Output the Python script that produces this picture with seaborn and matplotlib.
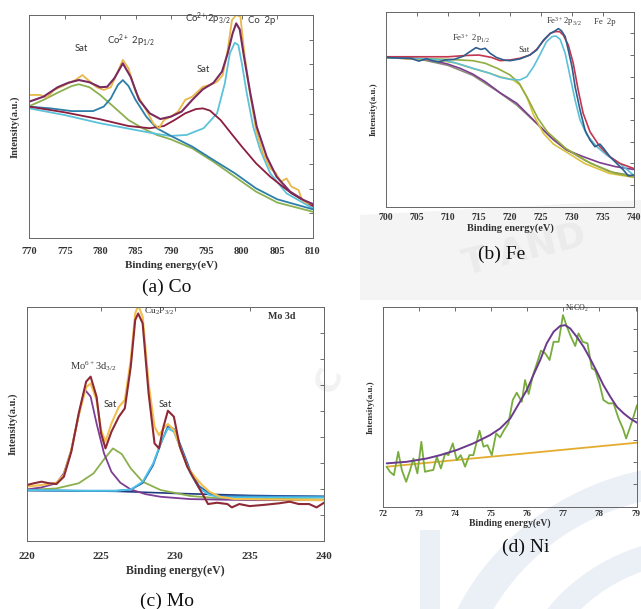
import matplotlib
matplotlib.use("Agg")
import matplotlib.pyplot as plt
import seaborn as sns
from matplotlib.patches import Polygon, Wedge

sns.set_theme(style="white")
plt.rcParams['font.family'] = ['Liberation Serif', 'DejaVu Serif']
plt.rcParams['mathtext.default'] = 'regular'

# ---------------- (a) Co 2p ----------------
co_env_x = [770, 772, 774, 775.5, 777, 778.5, 780, 781, 782, 783.2, 784.3, 785.5, 787, 788.5, 790,
            791.5, 793, 794.5, 796, 797.2, 798, 798.7, 799.2, 799.7, 800.3, 801.2, 802.1, 803.5,
            804.9, 806.8, 808.7, 810]
co_env_y = [5.50, 5.70, 6.08, 6.26, 6.37, 6.28, 6.08, 6.10, 6.44, 7.04, 6.50, 5.57, 5.03, 4.80, 4.90,
            5.10, 5.57, 6.00, 6.26, 6.71, 7.44, 8.25, 8.65, 8.41, 7.31, 5.83, 4.49, 3.29,
            2.48, 1.88, 1.54, 1.38]
co_raw_x = [770, 771.5, 772.5, 773.5, 775, 776.5, 777.5, 778.3, 779.5, 780.5, 781.5, 782.5, 783.2, 784,
            785, 786.5, 787.5, 788.3, 789, 790, 791, 792, 793, 794.5, 795.5, 796.5, 797.3, 798,
            798.6, 799.2, 799.8, 800.3, 801, 802, 803, 804, 804.8, 805.5, 806.3, 807, 808, 808.5,
            809, 810]
co_raw_y = [5.77, 5.77, 5.67, 5.97, 6.17, 6.37, 6.57, 6.37, 6.08, 5.97, 6.08, 6.71, 7.18, 6.84,
            5.90, 5.16, 4.63, 4.43, 4.76, 4.90, 5.10, 5.57, 5.70, 6.10, 6.17, 6.30, 6.57, 7.58,
            8.78, 8.99, 8.92, 7.58, 6.10, 4.36, 3.42, 2.82, 2.62, 2.28, 2.41, 2.08, 1.94, 1.54,
            1.44, 1.38]
co_p12_x = [770, 773, 776, 779, 780.5, 781.5, 782.5, 783.2, 784, 785, 786.5, 788, 790, 793, 796,
            799, 802, 805, 810]
co_p12_y = [5.30, 5.23, 5.12, 5.12, 5.30, 5.63, 6.17, 6.37, 6.13, 5.57, 4.90, 4.43, 4.12, 3.69,
            3.15, 2.62, 2.01, 1.57, 1.17]
co_sat1_x = [770, 772, 774, 776, 777, 778.5, 780, 782, 784, 786, 788, 790, 793, 796, 799, 802, 805, 810]
co_sat1_y = [5.32, 5.57, 5.86, 6.13, 6.20, 6.08, 5.77, 5.27, 4.76, 4.43, 4.16, 3.98, 3.62, 3.08,
             2.48, 1.88, 1.44, 1.07]
co_sat2_x = [770, 775, 780, 784, 787, 789, 790.5, 792, 793.5, 794.5, 795.5, 797, 798.5, 800, 802,
             804, 807, 810]
co_sat2_y = [5.30, 5.07, 4.79, 4.52, 4.43, 4.52, 4.76, 5.03, 5.20, 5.23, 5.14, 4.76, 4.22, 3.69,
             3.02, 2.48, 1.81, 1.30]
co_p32_x = [770, 775, 780, 785, 788, 789.9, 792.2, 794.6, 796.5, 797.6, 798.3, 799.0, 799.5, 800.0,
            800.7, 801.6, 802.6, 804.0, 806.3, 810]
co_p32_y = [5.23, 4.96, 4.63, 4.36, 4.20, 4.12, 4.16, 4.43, 5.03, 6.24, 7.44, 7.87, 7.78, 7.04,
            5.83, 4.49, 3.55, 2.62, 1.81, 1.21]

# ---------------- (b) Fe 2p ----------------
fe_raw_x = [700, 702, 704, 705.3, 706.5, 707.5, 708.5, 709.5, 711, 712.5, 713.5, 714.5, 715.3, 716,
            716.8, 717.8, 719, 720, 721.6, 723.2, 724.3, 725.4, 726.5, 727.3, 727.8, 728.3, 728.9,
            729.4, 730.0, 730.5, 731.3, 732.1, 732.9, 733.7, 734.5, 735.1, 736.1, 737.2, 738.3,
            739.1, 739.9]
fe_raw_y = [6.89, 6.86, 6.85, 6.72, 6.83, 6.74, 6.68, 6.77, 6.80, 6.95, 7.15, 7.34, 7.26, 7.31,
            7.08, 6.89, 6.77, 6.74, 6.82, 7.00, 7.23, 7.69, 8.00, 8.12, 8.22, 8.12, 7.85,
            7.23, 6.46, 5.54, 4.46, 3.54, 3.08, 2.77, 2.89, 2.69, 2.31, 2.00, 1.69,
            1.42, 1.46]
fe_env_x = [700, 705, 710, 713, 715, 717, 718.4, 720.0, 721.6, 723.2, 724.3, 725.4, 726.5, 727.3,
            728.0, 728.6, 729.4, 730.2, 731.0, 731.8, 732.9, 734.5, 736.1, 737.7, 739.9]
fe_env_y = [6.92, 6.92, 6.92, 6.98, 7.00, 6.89, 6.74, 6.77, 6.85, 7.00, 7.26, 7.66, 8.00, 8.08,
            8.08, 7.92, 7.46, 6.62, 5.38, 4.31, 3.46, 2.77, 2.31, 2.00, 1.77]
fe_p32_x = [700, 705, 709.2, 711.4, 714.1, 716.8, 718.4, 720, 721.6, 722.7, 723.8, 724.8, 725.9,
            726.8, 727.4, 728.1, 728.9, 729.7, 730.5, 731.3, 732.4, 734.0, 735.6, 737.7, 739.9]
fe_p32_y = [6.89, 6.85, 6.77, 6.62, 6.38, 6.15, 5.97, 5.88, 5.85, 6.00, 6.46, 7.00, 7.62,
            7.85, 7.88, 7.72, 7.08, 6.00, 4.92, 4.00, 3.31, 2.77, 2.38, 2.00, 1.46]
fe_grn_x = [700, 710, 712, 714, 716, 718, 720, 721.5, 723, 724.5, 726, 729, 733, 737, 740]
fe_grn_y = [6.89, 6.80, 6.77, 6.74, 6.62, 6.38, 6.08, 5.69, 4.92, 4.08, 3.46, 2.69, 2.00, 1.54, 1.38]
fe_yel_x = [700, 708, 711, 714, 716.5, 718.4, 720.5, 721.6, 722.7, 723.8, 725.4, 727, 729, 732, 736, 740]
fe_yel_y = [6.89, 6.77, 6.65, 6.38, 6.18, 6.00, 5.85, 5.62, 5.08, 4.23, 3.38, 2.89, 2.54, 2.00, 1.54, 1.35]
fe_pur_x = [700, 705, 708, 710, 712, 714, 716, 718.4, 721.1, 723.8, 726.5, 729.1, 731.8, 734.5, 737, 739.9]
fe_pur_y = [6.89, 6.83, 6.72, 6.58, 6.38, 6.12, 5.77, 5.26, 4.77, 4.00, 3.23, 2.62, 2.31, 2.03, 1.85, 1.72]
fe_gry_x = [700, 706, 710, 714, 718, 721, 724, 727, 729, 732, 736, 740]
fe_gry_y = [6.89, 6.77, 6.52, 6.06, 5.32, 4.71, 3.92, 3.08, 2.66, 2.15, 1.62, 1.42]

# ---------------- (c) Mo 3d ----------------
mo_raw_x = [220, 220.5, 221, 221.5, 222, 222.5, 223, 223.5, 224, 224.3, 224.7, 225, 225.3, 225.7,
            226.2, 226.6, 227, 227.3, 227.5, 227.8, 228.2, 228.6, 228.9, 229.2, 229.5, 229.9,
            230.3, 230.8, 231.3, 231.8, 232.2, 232.8, 233.5, 233.8, 234.3, 235, 236, 237, 237.7,
            238.3, 239, 239.5, 240]
mo_raw_y = [2.14, 2.21, 2.27, 2.21, 2.18, 2.46, 3.42, 4.90, 6.12, 6.31, 5.54, 4.13, 3.55, 4.19,
            4.77, 5.09, 6.69, 8.49, 8.74, 8.36, 5.67, 3.74, 3.55, 4.38, 5.00, 4.77,
            3.62, 2.85, 2.33, 1.82, 1.41, 1.46, 1.41, 1.28, 1.41, 1.33, 1.38, 1.44, 1.50,
            1.41, 1.41, 1.28, 1.46]
mo_fit_x = [220, 221, 222, 222.5, 223, 223.5, 224, 224.3, 224.7, 225, 225.3, 225.7, 226.2, 226.6,
            227, 227.3, 227.5, 227.8, 228.2, 228.6, 228.9, 229.2, 229.5, 229.9, 230.3, 230.8,
            231.3, 231.8, 232.3, 233, 234, 236, 240]
mo_fit_y = [2.08, 2.14, 2.23, 2.53, 3.49, 4.83, 5.90, 6.05, 5.41, 4.26, 3.81, 4.51, 5.15, 5.41,
            6.95, 8.74, 9.05, 8.62, 6.05, 4.38, 4.06, 4.32, 4.49, 4.26, 3.62, 2.85,
            2.46, 2.14, 1.88, 1.69, 1.60, 1.59, 1.56]
mo_p6_x = [220, 221, 222, 222.5, 223, 223.5, 223.9, 224.3, 224.7, 225.2, 225.7, 226.3, 227, 228,
           229, 231, 235, 240]
mo_p6_y = [1.97, 2.05, 2.21, 2.59, 3.49, 4.83, 5.82, 5.54, 4.51, 3.36, 2.65, 2.23, 1.97, 1.79,
           1.69, 1.60, 1.56, 1.56]
mo_sat1_x = [220, 222, 223.5, 224.5, 225.2, 225.8, 226.4, 227, 227.8, 229, 231, 233, 240]
mo_sat1_y = [1.95, 2.01, 2.21, 2.59, 3.13, 3.55, 3.33, 2.78, 2.27, 1.95, 1.72, 1.63, 1.59]
mo_sat2_x = [220, 224, 226, 227, 227.8, 228.5, 229, 229.5, 229.9, 230.4, 231, 231.6, 232.3, 233, 240]
mo_sat2_y = [1.95, 1.92, 1.92, 1.97, 2.27, 2.97, 3.74, 4.32, 4.19, 3.49, 2.59, 2.01, 1.76, 1.67, 1.67]
mo_sat2b_y = [1.93, 1.92, 1.92, 1.96, 2.22, 2.90, 3.70, 4.40, 4.30, 3.60, 2.70, 2.10, 1.82, 1.72, 1.70]
mo_base_x = [220, 226, 230, 235, 240]
mo_base_y = [1.94, 1.90, 1.82, 1.74, 1.70]

# ---------------- (d) Ni ----------------
ni_raw_x = [72.11, 72.20, 72.31, 72.43, 72.53, 72.65, 72.76, 72.85, 72.96, 73.07, 73.17, 73.29,
            73.40, 73.50, 73.61, 73.73, 73.82, 73.94, 74.05, 74.16, 74.28, 74.40, 74.51, 74.68,
            74.79, 74.90, 75.02, 75.14, 75.25, 75.36, 75.48, 75.60, 75.71, 75.85, 75.94, 76.04,
            76.16, 76.27, 76.38, 76.50, 76.62, 76.73, 76.87, 76.99, 77.10, 77.21, 77.33, 77.42,
            77.54, 77.67, 77.79, 77.88, 78.00, 78.11, 78.25, 78.39, 78.53, 78.65, 78.74, 78.90, 79.04]
ni_raw_y = [1.80, 1.57, 1.42, 2.47, 1.65, 1.12, 1.65, 2.17, 1.50, 2.92, 1.57, 1.62,
            1.65, 2.25, 1.72, 2.40, 2.32, 2.85, 2.10, 2.32, 1.80, 2.32, 2.32, 3.42,
            2.70, 2.77, 2.32, 3.30, 3.12, 3.45, 3.75, 4.80, 5.13, 4.72, 5.70, 5.07,
            5.92, 6.45, 7.02, 6.90, 6.60, 7.42, 7.42, 8.62, 8.10, 7.65, 7.23, 7.80,
            7.42, 7.35, 6.22, 6.15, 5.55, 4.80, 4.65, 4.65, 3.97, 3.52, 3.07, 3.82, 4.57]
ni_fit_x = [72.11, 72.66, 73.22, 73.59, 74.05, 74.51, 74.97, 75.25, 75.53, 75.80, 75.99, 76.17,
            76.36, 76.54, 76.73, 76.91, 77.05, 77.19, 77.37, 77.56, 77.74, 77.93, 78.11, 78.30,
            78.48, 78.67, 78.85, 79.04]
ni_fit_y = [1.95, 2.02, 2.17, 2.32, 2.55, 2.85, 3.22, 3.52, 3.97, 4.72, 5.25, 5.92,
            6.60, 7.35, 7.87, 8.13, 8.17, 8.02, 7.65, 7.20, 6.67, 6.07, 5.47, 4.95,
            4.50, 4.20, 3.97, 3.78]
ni_base_x = [72.11, 79.04]
ni_base_y = [1.80, 2.88]

fig = plt.figure(figsize=(6.41, 6.09), dpi=100)
W, H = 641.0, 609.0

# faint background watermark shapes
fig.patches.append(Polygon([[360 / W, 1 - 215 / H], [641 / W, 1 - 200 / H], [641 / W, 1 - 300 / H],
                            [360 / W, 1 - 300 / H]], closed=True, transform=fig.transFigure,
                           facecolor='#f4f4f4', edgecolor='none', zorder=-5))
fig.patches.append(Wedge((700 / W, 1 - 720 / H), 0.42, 100, 175, width=0.05,
                         transform=fig.transFigure, facecolor='#ebf0f7', edgecolor='none', zorder=-5))
fig.patches.append(Wedge((700 / W, 1 - 720 / H), 0.30, 100, 175, width=0.04,
                         transform=fig.transFigure, facecolor='#ebf0f7', edgecolor='none', zorder=-5))
fig.patches.append(Polygon([[420 / W, 1 - 530 / H], [440 / W, 1 - 530 / H], [440 / W, 1 - 609 / H],
                            [420 / W, 1 - 609 / H]], closed=True, transform=fig.transFigure,
                           facecolor='#ebf0f7', edgecolor='none', zorder=-5))
fig.text(525 / W, 1 - 250 / H, "T AND", fontsize=26, fontweight='bold', color='#ebebeb',
         rotation=14, ha='center', va='center', family='DejaVu Sans', zorder=-4)
fig.text(330 / W, 1 - 380 / H, "C", fontsize=24, fontweight='bold', color='#f2f2f2',
         rotation=70, ha='center', va='center', family='DejaVu Sans', zorder=-4)


def make_ax(l, t, r, b):
    return fig.add_axes([l / W, 1 - b / H, (r - l) / W, (b - t) / H])


def style(ax, xlim, xticks, tfs, tpad, xfs, xlpad, yfs, ylx):
    ax.set_facecolor('none')
    ax.set_xlim(*xlim)
    ax.set_ylim(0, 9)
    ax.set_xticks(xticks)
    ax.set_xticklabels([str(v) for v in xticks])
    ax.set_yticks(range(1, 9))
    ax.set_yticklabels([])
    ax.tick_params(direction='in', top=True, right=True, length=3, width=0.6,
                   color='#555555', labelsize=tfs, pad=tpad, labelcolor='#333333')
    for lab in ax.get_xticklabels():
        lab.set_fontweight('bold')
    ax.set_xlabel('Binding energy(eV)', fontsize=xfs, fontweight='bold', labelpad=xlpad, color='#333333')
    ax.set_ylabel('Intensity(a.u.)', fontsize=yfs, fontweight='bold', color='#333333')
    ax.yaxis.set_label_coords(ylx, 0.5)
    for s in ax.spines.values():
        s.set_color('#666666')
        s.set_linewidth(0.7)


def line(ax, x, y, c, lw=1.3):
    sns.lineplot(x=x, y=y, ax=ax, color=c, linewidth=lw, sort=False, estimator=None)


# ----- panel a -----
axa = make_ax(29.3, 14.7, 312.7, 238.3)
line(axa, co_sat1_x, co_sat1_y, '#8cb050')
line(axa, co_p32_x, co_p32_y, '#5bc2da')
line(axa, co_p12_x, co_p12_y, '#2c7fa8')
line(axa, co_sat2_x, co_sat2_y, '#8b1e3f')
line(axa, co_raw_x, co_raw_y, '#e8b84a')
line(axa, co_env_x, co_env_y, '#7a2a5e', 1.5)
style(axa, (770, 810), [770, 775, 780, 785, 790, 795, 800, 805, 810], 7.5, 6.3, 8, 3, 7.5, -0.033)
sfont = dict(family=['Lato', 'DejaVu Sans'], fontsize=6.8, color='#333333')
axa.text(777.3, 7.45, 'Sat', ha='center', va='bottom', **sfont)
axa.text(781, 7.6, 'Co$^{2+}$ 2p$_{1/2}$', ha='left', va='bottom', **sfont)
axa.text(792, 8.5, 'Co$^{2+}$2p$_{3/2}$', ha='left', va='bottom', **sfont)
axa.text(794.5, 6.6, 'Sat', ha='center', va='bottom', **sfont)
axa.text(800.9, 8.6, 'Co  2p', ha='left', va='bottom', **sfont)

# ----- panel b -----
axb = make_ax(386, 11.7, 634, 206.7)
line(axb, fe_gry_x, fe_gry_y, '#8c8a78', 1.1)
line(axb, fe_pur_x, fe_pur_y, '#7d3e8e', 1.2)
line(axb, fe_yel_x, fe_yel_y, '#d8c23e', 1.2)
line(axb, fe_grn_x, fe_grn_y, '#92ac3e', 1.2)
line(axb, fe_p32_x, fe_p32_y, '#5cc0d8', 1.2)
line(axb, fe_env_x, fe_env_y, '#c2364f', 1.2)
line(axb, fe_raw_x, fe_raw_y, '#2e5e8e', 1.2)
style(axb, (700, 740), [700, 705, 710, 715, 720, 725, 730, 735, 740], 7, 4.3, 7.5, 1.5, 6.5, -0.032)
tfont = dict(family=['Liberation Serif', 'DejaVu Serif'], fontsize=6.2, color='#333333')
axb.text(710.6, 7.45, 'Fe$^{3+}$ 2p$_{1/2}$', ha='left', va='bottom', **tfont)
axb.text(721.3, 7.05, 'Sat', ha='left', va='bottom', **tfont)
axb.text(725.8, 8.25, 'Fe$^{3+}$2p$_{3/2}$', ha='left', va='bottom', **tfont)
axb.text(733.5, 8.35, 'Fe  2p', ha='left', va='bottom', **tfont)

# ----- panel c -----
axc = make_ax(26.7, 306.7, 324, 540.7)
line(axc, mo_base_x, mo_base_y, '#1f3a80', 1.2)
line(axc, mo_sat1_x, mo_sat1_y, '#8db04e')
line(axc, mo_p6_x, mo_p6_y, '#7d3e96')
line(axc, mo_sat2_x, mo_sat2b_y, '#2a6bb0')
line(axc, mo_sat2_x, mo_sat2_y, '#4fc3e8')
line(axc, mo_fit_x, mo_fit_y, '#f2c04e', 1.5)
line(axc, mo_raw_x, mo_raw_y, '#8e2a36', 1.5)
style(axc, (220, 240), [220, 225, 230, 235, 240], 8, 8, 8.5, 3, 7.5, -0.029)
axc.text(222.9, 6.45, 'Mo$^{6+}$3d$_{3/2}$', ha='left', va='bottom',
         family=['Liberation Serif', 'DejaVu Serif'], fontsize=7.5, color='#333333')
axc.text(225.6, 5.05, 'Sat', ha='center', va='bottom', **sfont)
axc.text(229.3, 5.05, 'Sat', ha='center', va='bottom', **sfont)
axc.text(227.9, 8.6, 'Cu$_2$P$_{3/2}$', ha='left', va='bottom',
         family=['Liberation Serif', 'DejaVu Serif'], fontsize=6.8, color='#333333')
axc.text(236.2, 8.45, 'Mo 3d', ha='left', va='bottom', fontweight='bold',
         family=['Liberation Serif', 'DejaVu Serif'], fontsize=7.2, color='#333333')

# ----- panel d -----
axd = make_ax(382.7, 306.7, 637, 506.7)
line(axd, ni_base_x, ni_base_y, '#e4ac2e', 1.3)
line(axd, ni_raw_x, ni_raw_y, '#78ac3c', 1.3)
line(axd, ni_fit_x, ni_fit_y, '#6b3a8c', 1.4)
style(axd, (72, 79.04), [72, 73, 74, 75, 76, 77, 78, 79], 6.5, 2.5, 7, 0.5, 6.5, -0.030)
axd.text(77.05, 8.65, 'NiCO$_2$', ha='left', va='bottom',
         family=['Liberation Serif', 'DejaVu Serif'], fontsize=5.8, color='#333333')

# captions
cap = dict(fontsize=14, ha='center', va='center', color='#111111',
           family=['Liberation Serif', 'DejaVu Serif'])
fig.text(167 / W, 1 - 287 / H, '(a) Co', **cap)
fig.text(502 / W, 1 - 254 / H, '(b) Fe', **cap)
fig.text(167 / W, 1 - 601 / H, '(c) Mo', **cap)
fig.text(526 / W, 1 - 547 / H, '(d) Ni', **cap)

fig.savefig('out.png', dpi=100, facecolor='white')
